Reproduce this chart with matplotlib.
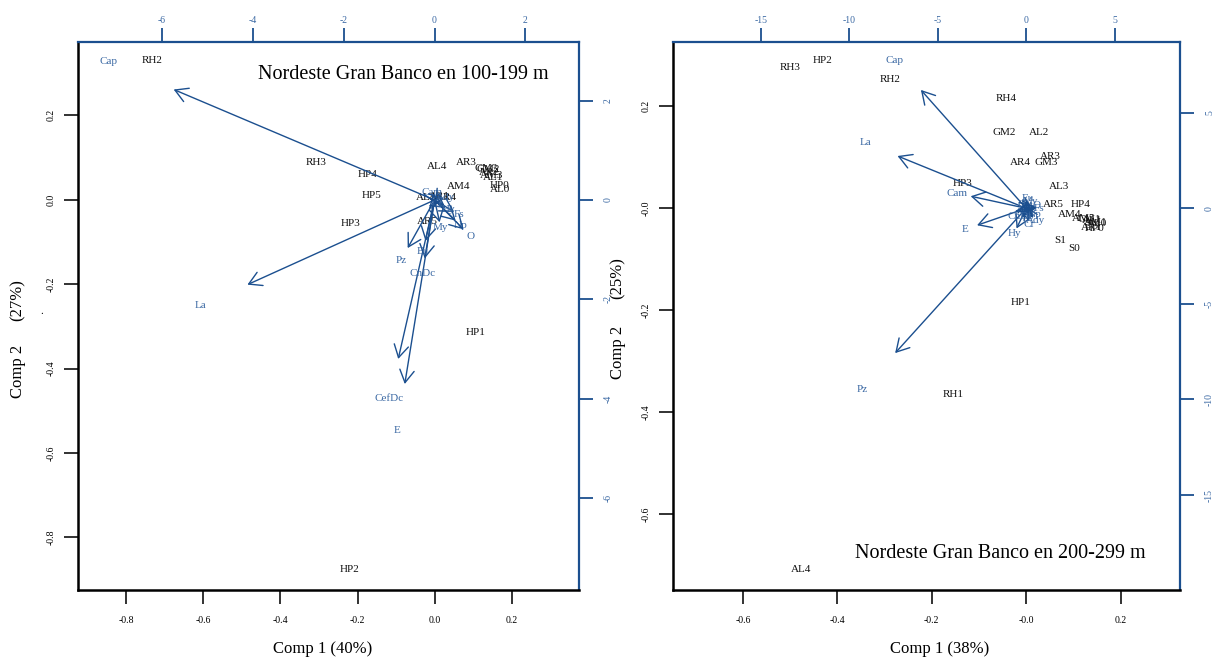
import matplotlib
matplotlib.use("Agg")
import matplotlib.pyplot as plt

plt.rcParams["font.family"] = ["Liberation Serif", "DejaVu Serif"]

# ---------------- data: Nordeste Gran Banco 100-199 m ----------------
a_title = "Nordeste Gran Banco en 100-199 m"
a_xlabel = "Comp 1 (40%)"
a_ylabel = ("Comp 2", "(27%)")
a_score_names = ["RH2", "RH3", "HP4", "HP5", "HP3", "AL4", "AR3",
                 "GM3", "GM2", "AR2", "AM3", "AL1", "HP0", "AL0",
                 "AM4", "AL2", "AR1", "AR4", "AR5", "HP1", "HP2"]
a_score_x = [-0.733, -0.307, -0.173, -0.165, -0.219, 0.005, 0.083,
             0.134, 0.139, 0.142, 0.147, 0.152, 0.168, 0.170,
             0.062, -0.023, 0.013, 0.031, -0.018, 0.106, -0.222]
a_score_y = [0.329, 0.088, 0.060, 0.010, -0.057, 0.079, 0.088,
             0.074, 0.071, 0.064, 0.057, 0.052, 0.033, 0.024,
             0.031, 0.005, 0.007, 0.005, -0.052, -0.314, -0.876]
a_load_names = ["Cap", "La", "CefDc", "E", "Pz", "CnDc", "Eu", "My",
                "Np", "O", "Fs", "Cam", "Hy", "Cr", "Ady"]
a_load_x = [-7.18, -5.15, -1.00, -0.82, -0.74, -0.27, -0.25, 0.14,
            0.58, 0.80, 0.54, -0.05, 0.30, 0.05, 0.25]
a_load_y = [2.78, -2.13, -4.00, -4.63, -1.21, -1.47, -1.03, -0.56,
            -0.52, -0.74, -0.30, 0.16, -0.20, -0.10, 0.05]
a_score_lim = (-0.925, 0.374)
a_load_lim = (-7.85, 3.18)
a_xticks = [-0.8, -0.6, -0.4, -0.2, 0.0, 0.2]
a_xticklabels = ["-0.8", "-0.6", "-0.4", "-0.2", "0.0", "0.2"]
a_yticks = [0.2, 0.0, -0.2, -0.4, -0.6, -0.8]
a_yticklabels = ["0.2", "0.0", "-0.2", "-0.4", "-0.6", "-0.8"]
a_top_ticks = [-6, -4, -2, 0, 2]
a_right_ticks = [2, 0, -2, -4, -6]

# ---------------- data: Nordeste Gran Banco 200-299 m ----------------
b_title = "Nordeste Gran Banco en 200-299 m"
b_xlabel = "Comp 1 (38%)"
b_ylabel = ("Comp 2", "(25%)")
b_score_names = ["RH3", "HP2", "RH2", "RH4", "GM2", "AL2", "AR4", "AR3",
                 "GM3", "AL3", "HP3", "AR5", "HP4", "AM4",
                 "AM5", "GM1", "AL1", "AM1", "AL0", "AR1", "HP0",
                 "S1", "S0", "HP1", "RH1", "AL4"]
b_score_x = [-0.499, -0.431, -0.287, -0.042, -0.047, 0.028, -0.013, 0.051,
             0.042, 0.070, -0.134, 0.057, 0.115, 0.093,
             0.122, 0.134, 0.140, 0.147, 0.151, 0.138, 0.144,
             0.072, 0.102, -0.011, -0.155, -0.476]
b_score_y = [0.277, 0.289, 0.252, 0.215, 0.148, 0.148, 0.090, 0.102,
             0.090, 0.043, 0.049, 0.008, 0.008, -0.012,
             -0.020, -0.021, -0.023, -0.027, -0.029, -0.037, -0.039,
             -0.064, -0.078, -0.184, -0.365, -0.707]
b_load_names = ["Cap", "La", "Cam", "E", "Hy", "Pz", "Cr", "Ady",
                "Ch", "Fs", "My", "Np", "O", "CnDc", "Eu"]
b_load_x = [-7.44, -9.09, -3.92, -3.47, -0.68, -9.26, 0.17, 0.51,
            -0.11, 0.74, 0.23, 0.45, 0.60, -0.30, 0.10]
b_load_y = [7.74, 3.42, 0.79, -1.11, -1.32, -9.47, -0.84, -0.63,
            0.21, 0.00, 0.37, -0.30, 0.15, -0.45, 0.50]
b_score_lim = (-0.748, 0.326)
b_load_lim = (-19.97, 8.70)
b_xticks = [-0.6, -0.4, -0.2, 0.0, 0.2]
b_xticklabels = ["-0.6", "-0.4", "-0.2", "-0.0", "0.2"]
b_yticks = [0.2, 0.0, -0.2, -0.4, -0.6]
b_yticklabels = ["0.2", "-0.0", "-0.2", "-0.4", "-0.6"]
b_top_ticks = [-15, -10, -5, 0, 5]
b_right_ticks = [5, 0, -5, -10, -15]

# ---------------- styling ----------------
W, H = 1214, 662
BLUE_LINE = "#1b4f8f"
BLUE_TEXT = "#3a68a3"
ARROW_SCALE = 0.8


def frac(px, py):
    return px / W, 1 - py / H


def draw_panel(fig, rect, title, title_pos, names, sx, sy, lnames, lx, ly,
               slim, llim, xticks, xticklabels, yticks, yticklabels,
               top_ticks, right_ticks):
    ax = fig.add_axes(rect)
    ax.set_xlim(slim)
    ax.set_ylim(slim)
    ax.set_xticks(xticks)
    ax.set_xticklabels(xticklabels, fontsize=7)
    ax.set_yticks(yticks)
    ax.set_yticklabels(yticklabels, fontsize=7, rotation=90, va="center")
    ax.tick_params(axis="both", direction="out", length=10, width=1.3,
                   color="#222222")
    ax.tick_params(axis="x", pad=9)
    ax.tick_params(axis="y", pad=6)
    for side in ("left", "bottom"):
        ax.spines[side].set_linewidth(1.8)
        ax.spines[side].set_color("black")
    for side in ("top", "right"):
        ax.spines[side].set_linewidth(1.6)
        ax.spines[side].set_color(BLUE_LINE)

    for n, x, y in zip(names, sx, sy):
        ax.text(x, y, n, fontsize=8, ha="center", va="center", color="#111111")

    ax.text(title_pos[0], title_pos[1], title, transform=ax.transAxes,
            fontsize=14.5, ha="center", va="center", color="black")

    ax2 = fig.add_axes(rect, frameon=False)
    ax2.set_xlim(llim)
    ax2.set_ylim(llim)
    ax2.xaxis.tick_top()
    ax2.yaxis.tick_right()
    ax2.set_xticks(top_ticks)
    ax2.set_xticklabels([str(t) for t in top_ticks], fontsize=7, color=BLUE_TEXT)
    ax2.set_yticks(right_ticks)
    ax2.set_yticklabels([str(t) for t in right_ticks], fontsize=7,
                        color=BLUE_TEXT, rotation=90, va="center")
    ax2.tick_params(axis="both", direction="out", length=10, width=1.3,
                    color=BLUE_LINE)
    ax2.tick_params(axis="x", pad=2)
    ax2.tick_params(axis="y", pad=8)

    for n, x, y in zip(lnames, lx, ly):
        ax2.annotate("", xy=(x * ARROW_SCALE, y * ARROW_SCALE), xytext=(0, 0),
                     arrowprops=dict(arrowstyle="->,head_length=0.45,head_width=0.26",
                                     color=BLUE_LINE, lw=1.0, shrinkA=0,
                                     shrinkB=0, mutation_scale=20))
        ax2.text(x, y, n, fontsize=8, ha="center", va="center", color=BLUE_TEXT)
    return ax, ax2


fig = plt.figure(figsize=(W / 100, H / 100), dpi=100)

rect_a = [78 / W, 1 - 590 / H, 501 / W, 548 / H]
rect_b = [673 / W, 1 - 590 / H, 507 / W, 548 / H]

draw_panel(fig, rect_a, a_title, (0.649, 0.94), a_score_names, a_score_x,
           a_score_y, a_load_names, a_load_x, a_load_y, a_score_lim,
           a_load_lim, a_xticks, a_xticklabels, a_yticks, a_yticklabels,
           a_top_ticks, a_right_ticks)
draw_panel(fig, rect_b, b_title, (0.645, 0.0675), b_score_names, b_score_x,
           b_score_y, b_load_names, b_load_x, b_load_y, b_score_lim,
           b_load_lim, b_xticks, b_xticklabels, b_yticks, b_yticklabels,
           b_top_ticks, b_right_ticks)

# axis titles
fig.text(*frac(323, 649), a_xlabel, fontsize=12, ha="center", va="center")
fig.text(*frac(940, 649), b_xlabel, fontsize=12, ha="center", va="center")
fig.text(*frac(18, 371), a_ylabel[0], fontsize=12, rotation=90,
         ha="center", va="center")
fig.text(*frac(18, 300), a_ylabel[1], fontsize=12, rotation=90,
         ha="center", va="center")
fig.text(*frac(42, 311), ".", fontsize=8, ha="center", va="center")
fig.text(*frac(618, 352), b_ylabel[0], fontsize=12, rotation=90,
         ha="center", va="center")
fig.text(*frac(618, 278), b_ylabel[1], fontsize=12, rotation=90,
         ha="center", va="center")
fig.text(*frac(641, 311), ".", fontsize=8, ha="center", va="center")

fig.savefig("out.png", dpi=100)
